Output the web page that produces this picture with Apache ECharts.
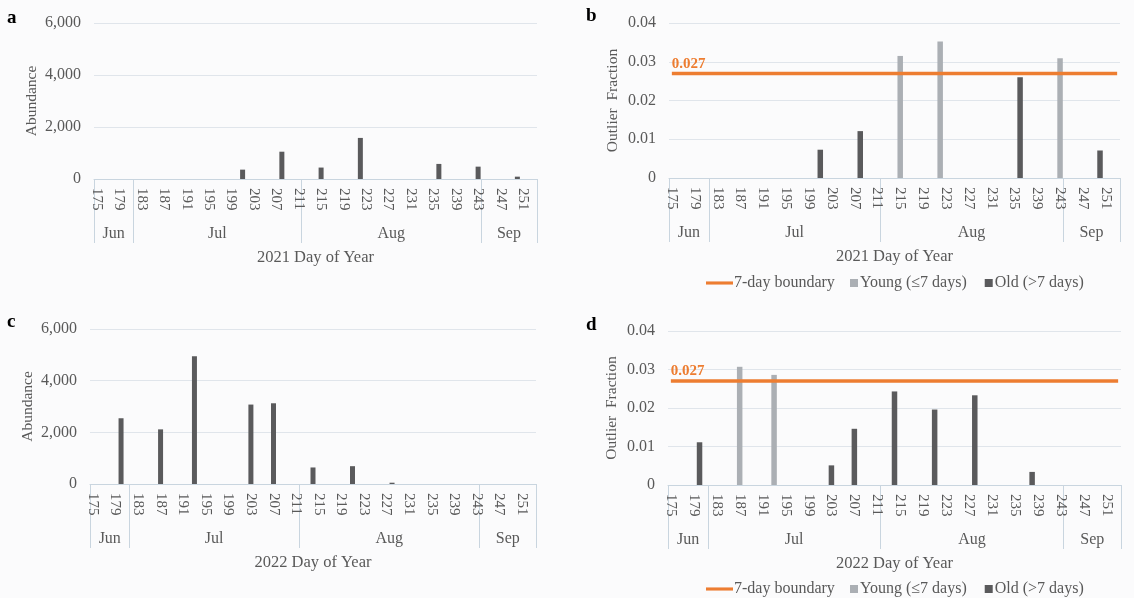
<!DOCTYPE html>
<html>
<head>
<meta charset="utf-8">
<script src="https://cdn.jsdelivr.net/npm/echarts@6/dist/echarts.min.js"></script>
<style>
  html, body { margin: 0; padding: 0; background: #fbfbfc; }
  #chart { width: 1134px; height: 598px; }
</style>
</head>
<body>
<div id="chart"></div>
<script>
// ---------- DATA ----------
const days = [175,176,177,178,179,180,181,182,183,184,185,186,187,188,189,190,191,192,193,194,195,196,197,198,199,200,
  201,202,203,204,205,206,207,208,209,210,211,212,213,214,215,216,217,218,219,220,221,222,223,224,225,226,227,228,229,230,
  231,232,233,234,235,236,237,238,239,240,241,242,243,244,245,246,247,248,249,250,251,252,253];
const monthNames = ['Jun', 'Jul', 'Aug', 'Sep'];
const monthBounds = [174.5, 181.5, 211.5, 243.5, 253.5];
const monthMids = [178, 196.5, 227.5, 248.5];
const abundTicks = [0, 2000, 4000, 6000];
const fracTicks = [0, 0.01, 0.02, 0.03, 0.04];
const boundary = 0.027;

// 2021
const abund2021Days = [201, 208, 215, 222, 236, 243, 250];
const abund2021 = [360, 1050, 440, 1580, 580, 475, 90];
const young2021Days = [215, 222, 243];
const young2021 = [0.0315, 0.0352, 0.0309];
const old2021Days = [201, 208, 236, 250];
const old2021 = [0.0073, 0.0121, 0.0260, 0.0071];

// 2022
const abund2022Days = [180, 187, 193, 203, 207, 214, 221, 228];
const abund2022 = [2545, 2115, 4945, 3075, 3125, 640, 690, 50];
const young2022Days = [187, 193];
const young2022 = [0.0307, 0.0286];
const old2022Days = [180, 203, 207, 214, 221, 228, 238];
const old2022 = [0.0111, 0.0051, 0.0146, 0.0243, 0.0196, 0.0233, 0.0034];

// ---------- STYLE ----------
const FONT = 'Liberation Serif';
const TXT = '#595959';
const AXIS = '#c9d5df';
const GRIDC = '#e0e5eb';
const ORANGE = '#ed7d31';
const YOUNG = '#abafb4';
const OLD = '#5a5a5c';

function toCat(dArr, vArr) {
  const out = days.map(() => null);
  dArr.forEach((d, i) => { out[days.indexOf(d)] = vArr[i]; });
  return out;
}

const panels = [
  { left: 94, width: 443, top: 23, height: 156, kind: 'abund', year: '2021' },
  { left: 669, width: 451, top: 23, height: 155, kind: 'frac', year: '2021' },
  { left: 90, width: 446, top: 329, height: 155, kind: 'abund', year: '2022' },
  { left: 668, width: 453, top: 331, height: 154, kind: 'frac', year: '2022' }
];

const grid = [], xAxis = [], yAxis = [], series = [];
panels.forEach((p, g) => {
  grid.push({ left: p.left, top: p.top, width: p.width, height: p.height });
  // day axis
  xAxis.push({
    type: 'category', gridIndex: g, data: days.map(String), position: 'bottom',
    boundaryGap: true,
    axisLine: { show: true, lineStyle: { color: AXIS, width: 1 } },
    axisTick: { show: false },
    axisLabel: { interval: 3, rotate: -90, margin: 9, fontFamily: FONT, fontSize: 15, color: TXT }
  });
  // month axis
  xAxis.push({
    type: 'value', gridIndex: g, position: 'bottom', min: 174.5, max: 253.5,
    axisLine: { show: false }, splitLine: { show: false },
    axisTick: { show: true, customValues: monthBounds, length: 64, lineStyle: { color: AXIS, width: 1 } },
    axisLabel: {
      customValues: monthMids, margin: 47, fontFamily: FONT, fontSize: 16, color: TXT,
      formatter: v => monthNames[monthMids.indexOf(v)]
    },
    name: p.year + ' Day of Year', nameLocation: 'middle', nameGap: 70,
    nameTextStyle: { fontFamily: FONT, fontSize: 16.5, color: TXT }
  });
  const isAb = p.kind === 'abund';
  const ticks = isAb ? abundTicks : fracTicks;
  yAxis.push({
    type: 'value', gridIndex: g, min: ticks[0], max: ticks[ticks.length - 1],
    interval: ticks[1] - ticks[0],
    axisLine: { show: false }, axisTick: { show: false },
    splitLine: { show: true, lineStyle: { color: GRIDC, width: 1 } },
    axisLabel: {
      margin: 13, fontFamily: FONT, fontSize: 16, color: TXT,
      formatter: v => isAb ? v.toLocaleString('en-US') : (v === 0 ? '0' : v.toFixed(2))
    },
    name: isAb ? 'Abundance' : 'Outlier  Fraction', nameLocation: 'middle', nameGap: isAb ? 54 : 48,
    nameTextStyle: { fontFamily: FONT, fontSize: 15.5, color: TXT }
  });
  const xi = g * 2;
  if (isAb) {
    const d = p.year === '2021' ? abund2021Days : abund2022Days;
    const v = p.year === '2021' ? abund2021 : abund2022;
    series.push({
      type: 'bar', name: 'Abundance ' + p.year, xAxisIndex: xi, yAxisIndex: g,
      data: toCat(d, v), barWidth: 5, itemStyle: { color: OLD }
    });
  } else {
    const yd = p.year === '2021' ? young2021Days : young2022Days;
    const yv = p.year === '2021' ? young2021 : young2022;
    const od = p.year === '2021' ? old2021Days : old2022Days;
    const ov = p.year === '2021' ? old2021 : old2022;
    series.push({
      type: 'bar', name: 'Young (≤7 days)', xAxisIndex: xi, yAxisIndex: g, stack: 's' + g,
      data: toCat(yd, yv), barWidth: 5.5, itemStyle: { color: YOUNG }
    });
    series.push({
      type: 'bar', name: 'Old (>7 days)', xAxisIndex: xi, yAxisIndex: g, stack: 's' + g,
      data: toCat(od, ov), barWidth: 5.5, itemStyle: { color: OLD }
    });
    const lineData = days.map((dd, i) => i === 0 ? {
      value: boundary,
      label: {
        show: true, position: 'top', align: 'left', distance: 2, offset: [0, 0],
        formatter: String(boundary), fontFamily: FONT, fontSize: 15, fontWeight: 'bold', color: ORANGE
      }
    } : boundary);
    series.push({
      type: 'line', name: '7-day boundary', xAxisIndex: xi, yAxisIndex: g,
      data: lineData, showSymbol: true, symbol: 'circle', symbolSize: 0, z: 5,
      lineStyle: { color: ORANGE, width: 3.5 }, itemStyle: { color: ORANGE },
      emphasis: { disabled: true }
    });
  }
});

const legend = [];
[279, 585].forEach(cy => {
  legend.push({
    data: [{ name: '7-day boundary', icon: 'path://M0,0H26V3H0Z' }],
    left: 701, top: cy - 9, itemWidth: 27, itemHeight: 3.5, itemGap: 0,
    textStyle: { fontFamily: FONT, fontSize: 16, color: TXT, padding: [0, 0, 0, -4] }
  });
  legend.push({
    data: [{ name: 'Young (≤7 days)', icon: 'rect' }, { name: 'Old (>7 days)', icon: 'rect' }],
    left: 845, top: cy - 9, itemWidth: 8, itemHeight: 8, itemGap: 18,
    textStyle: { fontFamily: FONT, fontSize: 16, color: TXT, padding: [0, 0, 0, -3] }
  });
});

const letters = [['a', 13, 19], ['b', 592, 17], ['c', 13, 323], ['d', 592, 326]];
const graphic = letters.map(([t, x, y]) => ({
  type: 'text', left: x - 6, top: y - 10,
  style: { text: t, font: 'bold 19px "Liberation Serif"', fill: '#000' }
}));

const chart = echarts.init(document.getElementById('chart'), null, { renderer: 'canvas' });
chart.setOption({
  backgroundColor: '#fbfbfc',
  animation: false,
  grid, xAxis, yAxis, series, legend, graphic
});
</script>
</body>
</html>
